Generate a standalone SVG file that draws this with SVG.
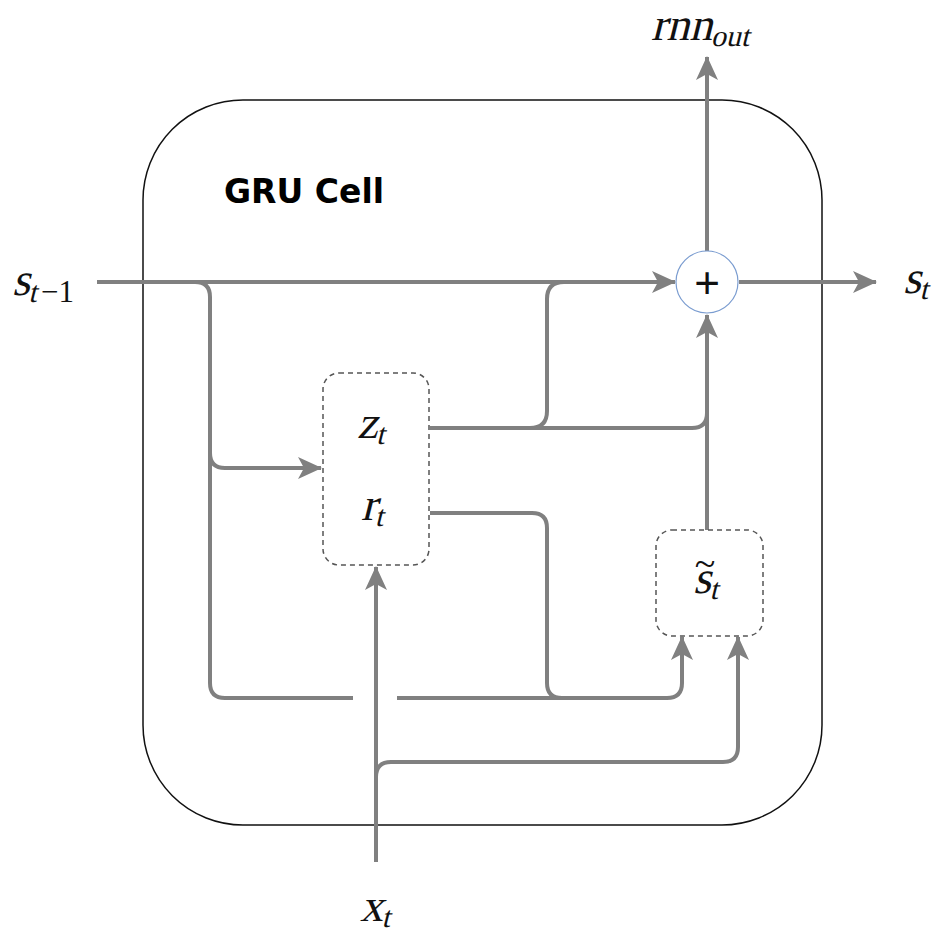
<svg xmlns="http://www.w3.org/2000/svg" width="935" height="936" viewBox="0 0 935 936">
<style>
.c{fill:none;stroke:#808080;stroke-width:4}
.box{fill:none;stroke:#555;stroke-width:1.5;stroke-dasharray:5 4}
.m{font-family:'Liberation Serif','Times New Roman',serif;font-size:46px;fill:#111}
.sub{font-size:30px}
</style>
<defs>
<marker id="a" markerUnits="userSpaceOnUse" markerWidth="24" markerHeight="22" viewBox="0 0 24 22" refX="23" refY="11" orient="auto">
<path d="M0,0 L24,11 L0,22 L6,11 Z" fill="#808080"/>
</marker>
</defs>
<rect width="935" height="936" fill="#fff"/>
<g id="cell">
<rect x="143" y="100" width="679" height="725" rx="100" ry="100" fill="none" stroke="#111" stroke-width="1.5"/>
<text x="224" y="203" font-family="'DejaVu Sans', Verdana, sans-serif" font-weight="bold" font-size="33" fill="#000">GRU Cell</text>
</g>
<g id="connectors">
<path class="c" d="M97,282 L675,282" marker-end="url(#a)"/>
<path class="c" d="M195,282 Q210,282 210,297 L210,683 Q210,698 225,698 L353,698"/>
<path class="c" d="M210,453 Q210,468 225,468 L321,468" marker-end="url(#a)"/>
<path class="c" d="M397,698 L667,698 Q682,698 682,683 L682,637" marker-end="url(#a)"/>
<path class="c" d="M430,513 L532,513 Q547,513 547,528 L547,683 Q547,698 562,698"/>
<path class="c" d="M430,428 L692,428 Q707,428 707,413"/>
<path class="c" d="M530,428 Q547,428 547,411 L547,299 Q547,282 564,282"/>
<path class="c" d="M707,530 L707,315" marker-end="url(#a)"/>
<path class="c" d="M707,251 L707,57" marker-end="url(#a)"/>
<path class="c" d="M739,282 L876,282" marker-end="url(#a)"/>
<path class="c" d="M376,862 L376,567" marker-end="url(#a)"/>
<path class="c" d="M376,777 Q376,762 391,762 L723,762 Q738,762 738,747 L738,637" marker-end="url(#a)"/>
</g>
<g id="sum">
<circle cx="707" cy="282" r="31" fill="#fff" stroke="#7a9cd0" stroke-width="1.2"/>
<text x="707" y="298" text-anchor="middle" font-family="'Liberation Sans', Arial, sans-serif" font-size="44" fill="#111">+</text>
</g>
<g id="gates">
<rect class="box" x="323" y="373" width="106" height="192" rx="16"/>
<g transform="translate(357,438) skewX(-14)"><text class="m">z<tspan class="sub" dy="6">t</tspan></text></g>
<g transform="translate(361,520) skewX(-14)"><text class="m">r<tspan class="sub" dy="6">t</tspan></text></g>
</g>
<g id="candidate">
<rect class="box" x="656" y="530" width="107" height="106" rx="16"/>
<g transform="translate(693,593) skewX(-14)"><text class="m">s<tspan class="sub" dy="6">t</tspan></text></g>
<text x="705" y="576" text-anchor="middle" font-family="'Liberation Serif', serif" font-size="38" fill="#111">~</text>
</g>
<g id="labels">
<g transform="translate(12,295) skewX(-14)"><text class="m">s<tspan class="sub" dy="7">t</tspan></text></g>
<text x="41" y="302" font-family="'Liberation Serif', serif" font-size="31" fill="#111">−1</text>
<g transform="translate(651,40) skewX(-14)"><text class="m">rnn<tspan class="sub" dy="6">out</tspan></text></g>
<g transform="translate(903,293) skewX(-14)"><text class="m">s<tspan class="sub" dy="6">t</tspan></text></g>
<g transform="translate(360,921) skewX(-14)"><text class="m">x<tspan class="sub" dy="6">t</tspan></text></g>
</g>
</svg>
